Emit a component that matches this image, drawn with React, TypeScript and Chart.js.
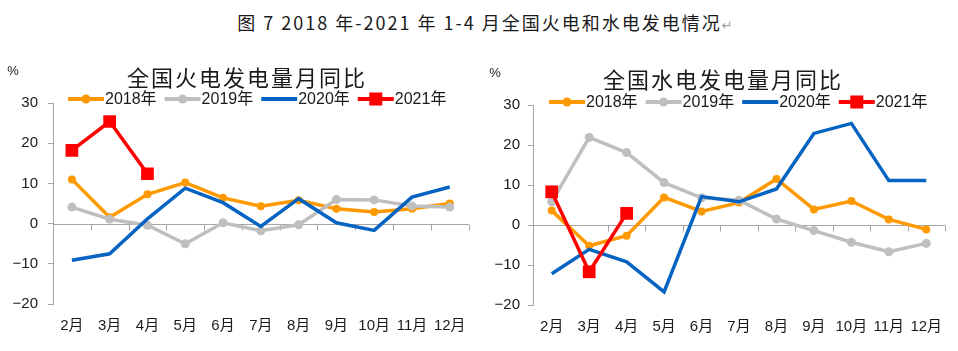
import React, { useEffect, useRef } from 'react';
import { Chart, registerables } from 'chart.js';

Chart.register(...registerables);

// ---------- data ----------
const months = ['2月', '3月', '4月', '5月', '6月', '7月', '8月', '9月', '10月', '11月', '12月'];
const seriesNames = ['2018年', '2019年', '2020年', '2021年'];

const thermal2018 = [11.0, 1.6, 7.3, 10.2, 6.4, 4.3, 5.8, 3.7, 2.9, 3.7, 5.0];
const thermal2019 = [4.1, 1.1, -0.4, -5.0, 0.2, -1.8, -0.3, 6.0, 5.9, 4.4, 4.1];
const thermal2020 = [-9.1, -7.5, 1.2, 8.8, 5.2, -0.7, 6.2, 0.2, -1.7, 6.6, 9.1];
const thermal2021 = [18.2, 25.4, 12.4];

const hydro2018 = [3.6, -5.2, -2.7, 6.9, 3.4, 5.6, 11.5, 3.9, 6.0, 1.4, -1.1];
const hydro2019 = [5.8, 21.9, 18.1, 10.6, 6.8, 6.2, 1.5, -1.4, -4.3, -6.7, -4.6];
const hydro2020 = [-12.2, -6.1, -9.2, -16.7, 7.1, 5.8, 9.0, 22.9, 25.4, 11.1, 11.1];
const hydro2021 = [8.3, -11.7, 2.9];

const yMin = -20;
const yMax = 30;
const yStep = 10;

const mainTitle = '图 7 2018 年-2021 年 1-4 月全国火电和水电发电情况';
const thermalTitle = '全国火电发电量月同比';
const hydroTitle = '全国水电发电量月同比';
const unitLabel = '%';

// ---------- styles ----------
const ORANGE = '#FF9900';
const GRAY = '#BFBFBF';
const BLUE = '#0563C1';
const RED = '#FF0000';
const AXIS = '#A6A6A6';
const TEXT = '#1a1a1a';
const LATIN = "'Liberation Sans', 'Noto Sans CJK SC', sans-serif";
const CJK = "'Noto Sans CJK SC', sans-serif";

function makeDatasets(d18: number[], d19: number[], d20: number[], d21: number[]) {
  return [
    {
      label: seriesNames[0], data: d18, borderColor: ORANGE, backgroundColor: ORANGE,
      borderWidth: 3.5, pointStyle: 'circle', pointRadius: 4, pointBorderWidth: 0, order: 4, tension: 0,
    },
    {
      label: seriesNames[1], data: d19, borderColor: GRAY, backgroundColor: GRAY,
      borderWidth: 3.5, pointStyle: 'circle', pointRadius: 4.5, pointBorderWidth: 0, order: 3, tension: 0,
    },
    {
      label: seriesNames[2], data: d20, borderColor: BLUE, backgroundColor: BLUE,
      borderWidth: 3.5, pointRadius: 0, order: 2, tension: 0,
    },
    {
      label: seriesNames[3], data: d21, borderColor: RED, backgroundColor: RED,
      borderWidth: 3.5, pointStyle: 'rect', pointRadius: 9, pointBorderWidth: 0, order: 1, tension: 0,
    },
  ];
}

const decorPlugin = {
  id: 'decor',
  beforeDatasetsDraw(chart: any) {
    const { ctx, chartArea, scales } = chart;
    const y0 = Math.round(scales.y.getPixelForValue(0)) + 0.5;
    const n = scales.x.ticks.length;
    const step = (chartArea.right - chartArea.left) / n;
    ctx.save();
    ctx.strokeStyle = AXIS;
    ctx.lineWidth = 1;
    ctx.beginPath();
    ctx.moveTo(chartArea.left, y0);
    ctx.lineTo(chartArea.right, y0);
    for (let k = 1; k <= n; k++) {
      const x = Math.round(chartArea.left + k * step) + 0.5;
      ctx.moveTo(x, y0);
      ctx.lineTo(x, y0 + 6);
    }
    ctx.stroke();
    ctx.restore();
  },
  afterDraw(chart: any, _args: any, opts: any) {
    const { ctx } = chart;
    ctx.save();
    // subtitle
    ctx.fillStyle = TEXT;
    ctx.font = `22px ${CJK}`;
    ctx.textAlign = 'center';
    ctx.textBaseline = 'middle';
    (ctx as any).letterSpacing = '2px';
    ctx.fillText(opts.title, opts.titleX, opts.titleY);
    (ctx as any).letterSpacing = '0px';
    // unit
    ctx.font = `13px ${LATIN}`;
    ctx.fillText(unitLabel, opts.pctX, opts.pctY);
    // legend
    ctx.font = `16px ${LATIN}`;
    ctx.textAlign = 'left';
    let x = opts.legendX;
    const y = opts.legendY;
    chart.data.datasets.forEach((ds: any) => {
      ctx.strokeStyle = ds.borderColor;
      ctx.lineWidth = 4;
      ctx.beginPath();
      ctx.moveTo(x, y);
      ctx.lineTo(x + 36, y);
      ctx.stroke();
      ctx.fillStyle = ds.backgroundColor;
      if (ds.pointRadius > 0) {
        if (ds.pointStyle === 'rect') {
          ctx.fillRect(x + 18 - 6.5, y - 6.5, 13, 13);
        } else {
          ctx.beginPath();
          ctx.arc(x + 18, y, 4.5, 0, Math.PI * 2);
          ctx.fill();
        }
      }
      ctx.fillStyle = TEXT;
      ctx.fillText(ds.label, x + 37, y + 1);
      x += 37 + ctx.measureText(ds.label).width + 8;
    });
    ctx.restore();
  },
};

function makeConfig(datasets: any[], layout: any, tickPad: number, decor: any) {
  return {
    type: 'line',
    data: { labels: months, datasets },
    options: {
      animation: false,
      responsive: false,
      maintainAspectRatio: false,
      layout: { padding: layout },
      plugins: {
        legend: { display: false },
        title: { display: false },
        tooltip: { enabled: false },
        decor,
      },
      scales: {
        x: {
          type: 'category',
          offset: true,
          grid: { display: false, drawTicks: false },
          border: { display: false },
          ticks: { font: { family: LATIN, size: 15 }, color: TEXT, padding: 13, maxRotation: 0, autoSkip: false },
          afterFit: (s: any) => { s.height = 40; },
        },
        y: {
          min: yMin,
          max: yMax,
          grid: { drawOnChartArea: false, drawTicks: true, tickLength: 5, color: AXIS },
          border: { color: AXIS, width: 1 },
          ticks: {
            stepSize: yStep,
            font: { family: LATIN, size: 15 },
            color: TEXT,
            padding: tickPad,
            callback: (v: any) => (v < 0 ? '\u2212' + Math.abs(v) : String(v)),
          },
          afterFit: (s: any) => { s.width = 53; },
        },
      },
    },
    plugins: [decorPlugin],
  };
}

function LineChart(props: { config: any; width: number; height: number; left: number }) {
  const ref = useRef<HTMLCanvasElement | null>(null);
  useEffect(() => {
    if (!ref.current) return;
    const chart = new Chart(ref.current, props.config);
    return () => chart.destroy();
  }, []);
  return (
    <canvas
      ref={ref}
      width={props.width}
      height={props.height}
      style={{ position: 'absolute', left: props.left, top: 0, width: props.width, height: props.height }}
    />
  );
}

export default function App() {
  const leftConfig = makeConfig(
    makeDatasets(thermal2018, thermal2019, thermal2020, thermal2021),
    { top: 103, right: 6, bottom: 7, left: 0 },
    10,
    { title: thermalTitle, titleX: 247, titleY: 78, pctX: 13, pctY: 71, legendX: 68, legendY: 99 }
  );
  const rightConfig = makeConfig(
    makeDatasets(hydro2018, hydro2019, hydro2020, hydro2021),
    { top: 105, right: 13, bottom: 6, left: 0 },
    8,
    { title: hydroTitle, titleX: 243, titleY: 80, pctX: 15, pctY: 73, legendX: 69, legendY: 102 }
  );
  return (
    <div style={{ position: 'absolute', left: 0, top: 0, width: 958, height: 351, background: '#fff', overflow: 'hidden' }}>
      <div
        style={{
          position: 'absolute', left: 0, top: 10, width: 958, textAlign: 'center',
          fontFamily: CJK, fontSize: 18, lineHeight: '24px', letterSpacing: '2px', color: TEXT,
          paddingLeft: 14, boxSizing: 'border-box', whiteSpace: 'nowrap',
        }}
      >
        {mainTitle}
        <span style={{ color: '#9a9a9a', fontFamily: "'DejaVu Sans', sans-serif", fontSize: 13 }}>↵</span>
      </div>
      <LineChart config={leftConfig} width={479} height={351} left={0} />
      <LineChart config={rightConfig} width={478} height={351} left={480} />
    </div>
  );
}
